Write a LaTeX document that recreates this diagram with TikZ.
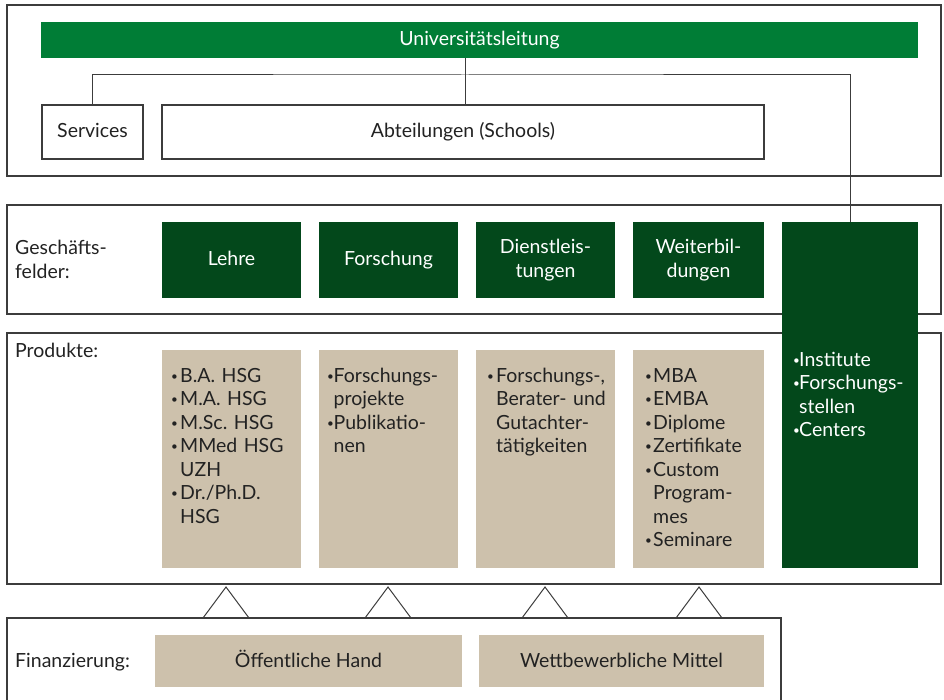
\documentclass[tikz,border=0pt]{standalone}
\usepackage{fontspec}
\setmainfont{Lato}

\definecolor{unigreen}{HTML}{007D36}
\definecolor{feldgreen}{HTML}{03481B}
\definecolor{sand}{HTML}{CDC1AC}
\definecolor{rahmen}{HTML}{3C3C3C}
\definecolor{schrift}{HTML}{222222}

\newcommand{\bul}[1][9pt]{\makebox[#1][l]{\raisebox{1.6pt}{\scalebox{0.6}{\textbullet}}}}
\newcommand{\einzug}[1][9pt]{\hspace*{#1}}

\begin{document}
\frenchspacing
\begin{tikzpicture}[x=1pt, y=-1pt,
    every node/.style={font=\fontsize{19.5}{23.5}\selectfont, text=schrift, inner sep=0pt},
    panel/.style={draw=rahmen, line width=1.3pt},
    link/.style={draw=rahmen, line width=1pt},
    oneline/.style={text height=14pt, text depth=2pt},
    lead/.style={oneline, fill=unigreen, text=white, minimum width=877pt, minimum height=36pt},
    unit/.style={oneline, draw=rahmen, line width=1.3pt, minimum height=54pt},
    field/.style={fill=feldgreen, text=white, minimum width=139pt, minimum height=76pt, align=center},
    product/.style={fill=sand, minimum width=139pt, minimum height=218pt},
    fund/.style={oneline, fill=sand, minimum height=52pt},
    list/.style={anchor=base west, text width=135pt, align=left}]
  \useasboundingbox (0,0) rectangle (944,700);

  % Rahmen
  \draw[panel] (7,5) rectangle (941,176);
  \draw[panel] (7,205) rectangle (941,314);
  \draw[panel] (7,333) rectangle (941,584);
  \draw[panel] (7,710) |- (781,618) -- (781,710);

  % Leitung
  \node[lead] (uni) at (479.5,40) {Universitätsleitung};
  \node[unit, minimum width=101pt] (services) at (92.5,132) {Services};
  \node[unit, minimum width=602pt] (abt) at (463,132) {Abteilungen (Schools)};

  % Geschaeftsfelder
  \node[list] (gf) at (15,255) {Geschäfts-\\felder:};
  \node[field, oneline] (lehre) at (231.5,260) {Lehre};
  \node[field, oneline] (forschung) at (388.5,260) {Forschung};
  \node[field] (dienst) at (545.5,260) {Dienstleis-\\tungen};
  \node[field, minimum width=131pt] (weiter) at (698.5,260) {Weiterbil-\\dungen};
  \node[fill=feldgreen, minimum width=136pt, minimum height=346pt] (inst) at (850,395) {};

  % Produkte
  \node[list] (pr) at (15,357) {Produkte:};
  \node[product] (p1) at (231.5,459) {};
  \node[product] (p2) at (388.5,459) {};
  \node[product] (p3) at (545.5,459) {};
  \node[product, minimum width=131pt] (p4) at (698.5,459) {};
  \node[list] (l1) at (171,382) {\bul B.A. HSG\\\bul M.A. HSG\\\bul M.Sc. HSG\\\bul MMed HSG\\\einzug UZH\\\bul Dr./Ph.D.\\\einzug HSG};
  \node[list] (l2) at (327,382) {\bul[6.5pt]Forschungs-\\\einzug[6.5pt]projekte\\\bul[6.5pt]Publikatio-\\\einzug[6.5pt]nen};
  \node[list] (l3) at (487,382) {\bul Forschungs-,\\\einzug Berater- und\\\einzug Gutachter-\\\einzug tätigkeiten};
  \node[list] (l4) at (645,382) {\bul[8pt]MBA\\\bul[8pt]EMBA\\\bul[8pt]Diplome\\\bul[8pt]Zertifikate\\\bul[8pt]Custom\\\einzug[8pt]Program-\\\einzug[8pt]mes\\\bul[8pt]Seminare};
  \node[list, text=white] (l5) at (793,366) {\bul[6pt]Institute\\\bul[6pt]Forschungs-\\\einzug[6pt]stellen\\\bul[6pt]Centers};

  % Finanzierung
  \node[list] (fi) at (15,667) {Finanzierung:};
  \node[fund, minimum width=307pt] (oeff) at (308.5,661) {Öffentliche Hand};
  \node[fund, minimum width=285pt] (wett) at (621.5,661) {Wettbewerbliche Mittel};
  \foreach \x in {226,388,545,699}
    \draw[link] (\x-23,618) -- (\x,587) -- (\x+23,618);

  % Verbindungen
  \coordinate (hub) at (465,75);
  \draw[link] (uni.south -| hub) -- (abt.north -| hub);
  \draw[link] (services.north) |- (hub) -| (inst.north);
\end{tikzpicture}
\end{document}
